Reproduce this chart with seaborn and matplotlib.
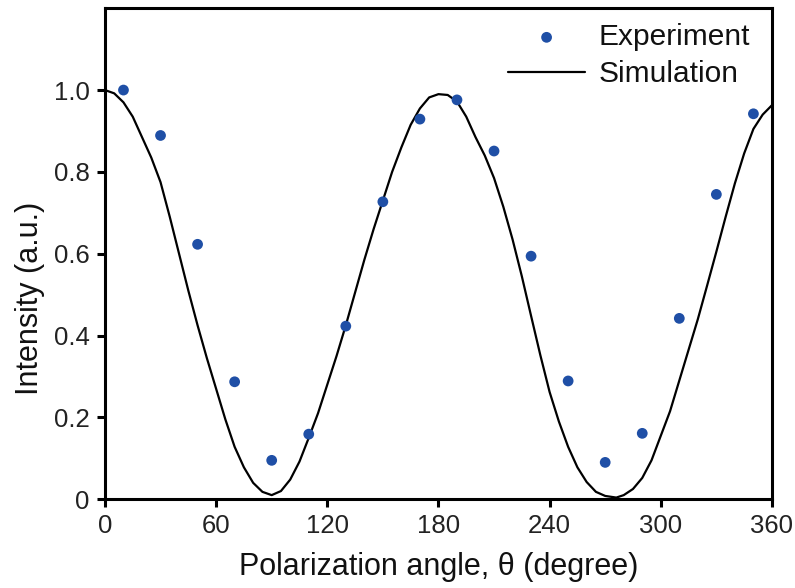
import matplotlib
matplotlib.use("Agg")
import matplotlib.pyplot as plt
import seaborn as sns
import pandas as pd

# Experimental data (degrees, normalized intensity)
exp_angle = [10, 30, 50, 70, 90, 110, 130, 150, 170, 190, 210, 230, 250, 270, 290, 310, 330, 350]
exp_intensity = [1.000, 0.889, 0.623, 0.287, 0.095, 0.159, 0.423, 0.727, 0.929, 0.976,
                 0.851, 0.594, 0.289, 0.090, 0.161, 0.442, 0.745, 0.942]

# Simulation curve
sim_angle = [0, 5, 10, 15, 20, 25, 30, 35, 40, 45, 50, 55, 60, 65, 70, 75, 80, 85, 90,
             95, 100, 105, 110, 115, 120, 125, 130, 135, 140, 145, 150, 155, 160, 165, 170,
             175, 180, 185, 190, 195, 200, 205, 210, 215, 220, 225, 230, 235, 240, 245, 250,
             255, 260, 265, 270, 276, 280, 285, 290, 295, 300, 305, 310, 315, 320, 325, 330,
             335, 340, 345, 350, 355, 360]
sim_intensity = [1.000, 0.992, 0.970, 0.935, 0.885, 0.835, 0.775, 0.690, 0.600, 0.510, 0.425,
                 0.345, 0.270, 0.195, 0.128, 0.078, 0.040, 0.018, 0.010,
                 0.020, 0.048, 0.092, 0.150, 0.210, 0.280, 0.350, 0.425, 0.505, 0.585, 0.660,
                 0.730, 0.800, 0.860, 0.915, 0.955,
                 0.982, 0.990, 0.988, 0.972, 0.935, 0.885, 0.840, 0.785, 0.715, 0.635, 0.545,
                 0.448, 0.352, 0.262, 0.190, 0.128,
                 0.078, 0.042, 0.018, 0.008, 0.004, 0.010, 0.025, 0.052, 0.095, 0.155, 0.215,
                 0.290, 0.365, 0.440, 0.522, 0.605,
                 0.690, 0.772, 0.845, 0.905, 0.940, 0.963]

x_ticks = [0, 60, 120, 180, 240, 300, 360]
y_ticks = [0, 0.2, 0.4, 0.6, 0.8, 1.0]
y_tick_labels = ["0", "0.2", "0.4", "0.6", "0.8", "1.0"]

exp_df = pd.DataFrame({"angle": exp_angle, "intensity": exp_intensity})
sim_df = pd.DataFrame({"angle": sim_angle, "intensity": sim_intensity})

sns.set_theme(style="ticks")
plt.rcParams["font.family"] = ["Liberation Sans", "DejaVu Sans"]

fig = plt.figure(figsize=(7.95, 5.88), dpi=100)
ax = fig.add_axes([0.132, 0.151, 0.839, 0.835])

blue = "#1f4fa6"
sns.scatterplot(data=exp_df, x="angle", y="intensity", ax=ax, color=blue, s=60,
                edgecolor="none", label="Experiment", zorder=3)
sns.lineplot(data=sim_df, x="angle", y="intensity", ax=ax, color="black", linewidth=1.6,
             label="Simulation", zorder=2)

ax.set_xlim(0, 360)
ax.set_ylim(0, 1.2)
ax.set_xticks(x_ticks)
ax.set_xticklabels([str(t) for t in x_ticks])
ax.set_yticks(y_ticks)
ax.set_yticklabels(y_tick_labels)

ax.set_xlabel("Polarization angle, θ (degree)", fontsize=22, labelpad=10, color="#111111")
ax.set_ylabel("Intensity (a.u.)", fontsize=22, color="#111111")
ax.yaxis.set_label_coords(-0.09, 0.41)
ax.tick_params(axis="both", labelsize=18.5, direction="out", length=6, width=2.2,
               color="black", labelcolor="#222222", pad=5)

for sp in ax.spines.values():
    sp.set_visible(True)
    sp.set_linewidth(2.2)
    sp.set_color("black")

handles, labels = ax.get_legend_handles_labels()
order = [labels.index("Experiment"), labels.index("Simulation")]
leg = ax.legend([handles[i] for i in order], [labels[i] for i in order],
                loc="upper right", frameon=False, fontsize=21.5, handlelength=2.6,
                handletextpad=0.45, labelspacing=0.3, borderaxespad=0.1,
                scatterpoints=1, bbox_to_anchor=(0.99, 1.0))
for t in leg.get_texts():
    t.set_color("#111111")

fig.savefig("out.png", dpi=100)
